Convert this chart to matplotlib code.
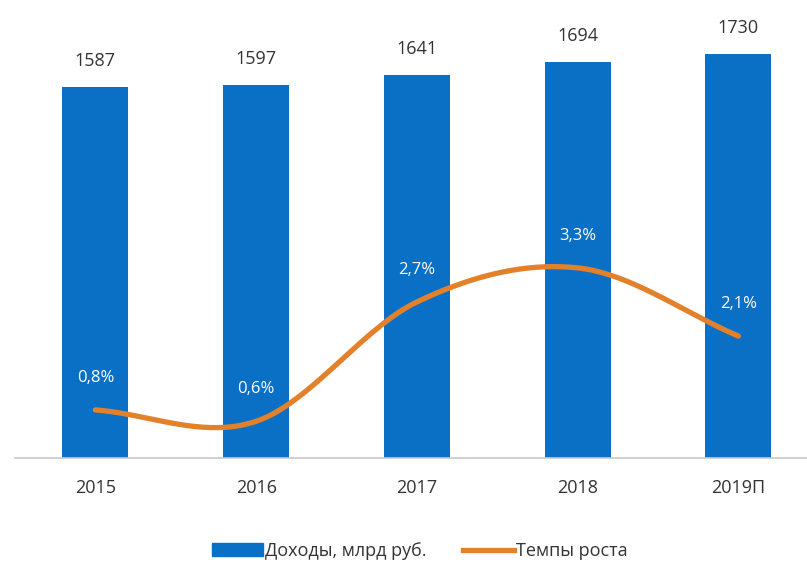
import matplotlib.pyplot as plt
import numpy as np
from matplotlib.lines import Line2D
from matplotlib.patches import Patch

years = ["2015", "2016", "2017", "2018", "2019П"]
income = [1587, 1597, 1641, 1694, 1730]
growth = [0.8, 0.6, 2.7, 3.3, 2.1]

BLUE = "#0A70C6"
ORANGE = "#E3812B"
GRAY_TXT = "#333333"

plt.rcParams["font.family"] = ["Open Sans", "DejaVu Sans"]


def catmull_rom(x, y, n=40):
    """Smooth curve through the points, like Excel's smoothed line."""
    x = np.asarray(x, float)
    y = np.asarray(y, float)
    px = np.concatenate([[2 * x[0] - x[1]], x, [2 * x[-1] - x[-2]]])
    py = np.concatenate([[2 * y[0] - y[1]], y, [2 * y[-1] - y[-2]]])
    xs, ys = [], []
    t = np.linspace(0, 1, n)
    for i in range(1, len(px) - 2):
        for p, out in ((px, xs), (py, ys)):
            p0, p1, p2, p3 = p[i - 1], p[i], p[i + 1], p[i + 2]
            out.extend(0.5 * ((2 * p1) + (-p0 + p2) * t
                              + (2 * p0 - 5 * p1 + 4 * p2 - p3) * t ** 2
                              + (-p0 + 3 * p1 - 3 * p2 + p3) * t ** 3))
    return np.array(xs), np.array(ys)


W, H = 807, 565
fig = plt.figure(figsize=(W / 100, H / 100), dpi=100)
ax = fig.add_axes([15 / W, (H - 458) / H, 792 / W, 418 / H])

x = np.arange(len(years))
ax.bar(x, income, width=0.41, color=BLUE, zorder=2)
ax.set_xlim(-0.5, -0.5 + 792 / 160.75)
ax.set_ylim(0, 1790)

for xi, v in zip(x, income):
    ax.annotate(str(v), (xi, v), xytext=(0, 26), textcoords="offset pixels",
                ha="center", va="center", fontsize=13, color=GRAY_TXT)

ax.set_xticks(x)
ax.set_xticklabels(years, fontsize=13, color=GRAY_TXT)
ax.tick_params(axis="x", length=0, pad=15)
ax.set_yticks([])
for s in ["top", "right", "left"]:
    ax.spines[s].set_visible(False)
ax.spines["bottom"].set_color("#C8C8C8")
ax.spines["bottom"].set_linewidth(1.2)

ax2 = ax.twinx()
ax2.set_ylim(-0.046, 7.31)
sx, sy = catmull_rom(x, growth)
ax2.plot(sx, sy, color=ORANGE, lw=3.8, solid_capstyle="round", zorder=3)
for xi, g in zip(x, growth):
    ax2.annotate(f"{g:.1f}%".replace(".", ","), (xi, g), xytext=(0, 32),
                 textcoords="offset pixels", ha="center", va="center",
                 fontsize=12, color="white")
ax2.set_yticks([])
for s in ax2.spines.values():
    s.set_visible(False)

handles = [Patch(color=BLUE), Line2D([0], [0], color=ORANGE, lw=3.8)]
fig.legend(handles, ["Доходы, млрд руб.", "Темпы роста"],
           loc="center", bbox_to_anchor=(420 / W, (H - 551) / H), ncol=2,
           frameon=False, fontsize=13, handlelength=2.8, handletextpad=0.15,
           columnspacing=2.0, labelcolor=GRAY_TXT)

fig.savefig("out.png", dpi=100)
